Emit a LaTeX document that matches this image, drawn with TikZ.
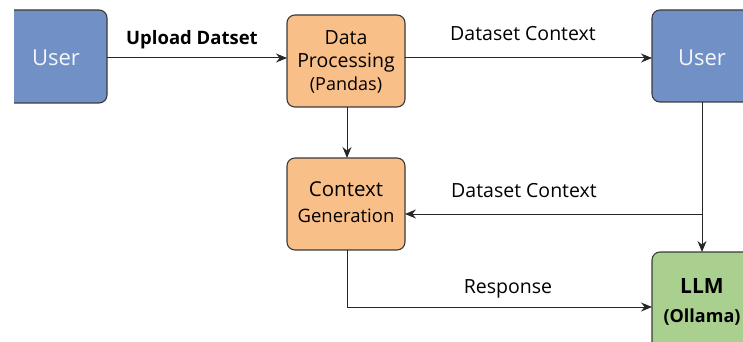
\documentclass[tikz,border=0pt]{standalone}
\usepackage{fontspec}
\setmainfont{Open Sans}
\usetikzlibrary{arrows.meta}
\definecolor{ublue}{HTML}{7191C6}
\definecolor{porange}{HTML}{F9BF88}
\definecolor{lgreen}{HTML}{A9D08F}
\definecolor{edge}{HTML}{3A3A3A}
\tikzset{
  box/.style={draw=edge, line width=1.1pt, rounded corners=8pt, inner sep=0pt},
  conn/.style={draw=black!85, line width=1pt, -{Stealth[length=11pt,width=9pt]}},
  lbl/.style={font=\fontsize{19.5}{22}\selectfont, inner sep=0pt},
}
\begin{document}
\begin{tikzpicture}[x=1pt,y=-1pt]
\useasboundingbox (0,0) rectangle (743,342);
\begin{scope}
\clip (14,0) rectangle (743,342);
\draw[box, fill=ublue] (-10,10) rectangle (107,103);
\draw[box, fill=ublue] (652,10) rectangle (770,102);
\draw[box, fill=lgreen] (652,252) rectangle (770,370);
\end{scope}
\node[font=\fontsize{22}{26}\selectfont, text=white!92!ublue] (user1) at (56,58) {User};
\node[font=\fontsize{22}{26}\selectfont, text=white!92!ublue] (user2) at (702,58) {User};
\node[font=\bfseries\fontsize{21}{29}\selectfont, align=center] (llm) at (702,302) {LLM\\\fontsize{18}{20}\selectfont(Ollama)};
\path[box, fill=porange] (287,15) rectangle (405,107);
\path[box, fill=porange] (287,158) rectangle (405,250);
\coordinate (dpW) at (287,58);
\coordinate (dpE) at (405,58);
\coordinate (dpS) at (347,107);
\coordinate (cgN) at (347,158);
\coordinate (cgE) at (405,214);
\coordinate (cgS) at (347,250);
\coordinate (u1E) at (107,58);
\coordinate (u2W) at (652,58);
\coordinate (u2S) at (702,102);
\coordinate (llmN) at (702,252);
\coordinate (llmW) at (652,307);
\coordinate (br) at (702,214);
\coordinate (corner) at (347,307);
\node[font=\fontsize{19.5}{23}\selectfont, align=center] (dp) at (346,62) {Data\\Processing\\\fontsize{18}{23}\selectfont(Pandas)};
\node[font=\fontsize{20.5}{26}\selectfont, align=center] (cg) at (346,202) {Context\\\fontsize{18.5}{26}\selectfont Generation};
\draw[conn] (u1E) -- (dpW);
\draw[conn] (dpE) -- (u2W);
\draw[conn] (dpS) -- (cgN);
\draw[conn] (u2S) -- (llmN);
\draw[conn] (br) -- (cgE);
\draw[conn] (cgS) -- (corner) -- (llmW);
\node[lbl, font=\bfseries\fontsize{18.5}{22}\selectfont] (l1) at (192,40) {Upload Datset};
\node[lbl] (l2) at (523,34) {Dataset Context};
\node[lbl] (l3) at (524,191) {Dataset Context};
\node[lbl] (l4) at (508,289) {Response};
\end{tikzpicture}
\end{document}
